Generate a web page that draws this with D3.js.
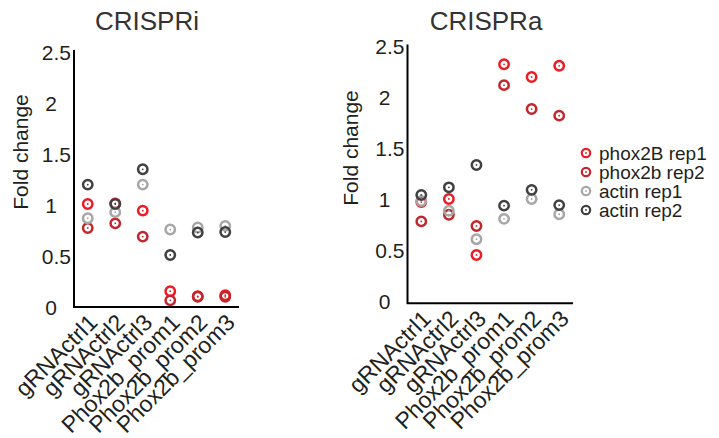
<!DOCTYPE html>
<html>
<head>
<meta charset="utf-8">
<script src="https://cdn.jsdelivr.net/npm/d3@7"></script>
<style>
  body { margin: 0; background: #fff; }
  text { font-family: "Liberation Sans", Arial, sans-serif; fill: #231f20; }
</style>
</head>
<body>
<script>
const WIDTH = 719
const HEIGHT = 438

const categories = ["gRNActrl1", "gRNActrl2", "gRNActrl3", "Phox2b_prom1", "Phox2b_prom2", "Phox2b_prom3"];
const seriesNames = ["phox2B rep1", "phox2b rep2", "actin rep1", "actin rep2"];
const yTicks = [0, 0.5, 1, 1.5, 2, 2.5];

// CRISPRi
const crispriRep1 = [1.01, 1.015, 0.945, 0.155, 0.105, 0.115];
const crispriRep2 = [0.775, 0.82, 0.69, 0.065, 0.10, 0.10];
const crispriActin1 = [0.87, 0.93, 1.20, 0.76, 0.78, 0.795];
const crispriActin2 = [1.20, 1.01, 1.35, 0.51, 0.73, 0.735];

// CRISPRa
const crispraRep1 = [0.97, 1.0, 0.45, 2.325, 2.20, 2.31];
const crispraRep2 = [0.78, 0.845, 0.735, 2.12, 1.885, 1.82];
const crispraActin1 = [0.98, 0.885, 0.605, 0.805, 1.0, 0.85];
const crispraActin2 = [1.04, 1.115, 1.335, 0.935, 1.09, 0.94];

const COLORS = ["#ec1c24", "#c1272d", "#a7a7a7", "#414042"];

const svg = d3.select("body").append("svg")
  .attr("width", WIDTH)
  .attr("height", HEIGHT);

function panel(title, series, cfg) {
  const g = svg.append("g");
  const x = d3.scaleLinear([0.5, 6.5], [cfg.left, cfg.right]);
  const y = d3.scaleLinear([0, 2.5], [cfg.bottom, cfg.top]);

  // title
  g.append("text")
    .attr("x", cfg.titleX)
    .attr("y", 30)
    .attr("text-anchor", "middle")
    .style("font-size", "26px")
    .style("fill", "#333")
    .text(title);

  // y label
  g.append("text")
    .attr("transform", `translate(${cfg.labelX},${cfg.labelY}) rotate(-90)`)
    .attr("text-anchor", "middle")
    .style("font-size", "21px")
    .text("Fold change");

  // y axis
  const yAxis = g.append("g")
    .attr("transform", `translate(${cfg.left},0)`)
    .call(d3.axisLeft(y).tickValues(yTicks).tickSize(0).tickFormat(d3.format("")));
  yAxis.select(".domain").remove();
  yAxis.selectAll("text")
    .attr("x", d => d % 1 ? -3 : -17)
    .attr("dy", "0.35em")
    .style("font-size", "21px")
    .style("font-family", "'Liberation Sans', Arial, sans-serif")
    .attr("fill", "#231f20");

  // axis lines
  g.append("path")
    .attr("d", `M${cfg.left},${cfg.top - 2}V${cfg.bottom + cfg.base}H${x(6.5)}`)
    .attr("fill", "none")
    .attr("stroke", "#000")
    .attr("stroke-width", 2);

  // x labels
  g.append("g").selectAll("text")
    .data(categories)
    .join("text")
    .attr("transform", (d, i) => `translate(${x(i + 1) + 11},${cfg.bottom + cfg.base + 17}) rotate(-45)`)
    .attr("text-anchor", "end")
    .style("font-size", "23px")
    .text(d => d);

  // markers
  series.forEach((vals, s) => {
    const m = g.append("g").selectAll("g")
      .data(vals)
      .join("g")
      .attr("transform", (d, i) => `translate(${x(i + 1)},${y(d)})`);
    m.append("circle")
      .attr("r", 4.7)
      .attr("fill", "none")
      .attr("stroke", COLORS[s])
      .attr("stroke-width", 2.5);
    m.append("circle")
      .attr("r", 0.9)
      .attr("fill", COLORS[s]);
  });
}

panel("CRISPRi", [crispriRep1, crispriRep2, crispriActin1, crispriActin2],
  { left: 74, right: 239, top: 52, bottom: 307, base: 0, titleX: 147, labelX: 28, labelY: 152 });
panel("CRISPRa", [crispraRep1, crispraRep2, crispraActin1, crispraActin2],
  { left: 407.5, right: 573, top: 46.5, bottom: 300.7, base: 2.5, titleX: 486, labelX: 358, labelY: 148 });

// legend
const legend = svg.append("g").attr("transform", "translate(586,153)");
const row = legend.selectAll("g")
  .data(seriesNames)
  .join("g")
  .attr("transform", (d, i) => `translate(0,${i * 19})`);
row.append("circle")
  .attr("r", 4.2)
  .attr("fill", "none")
  .attr("stroke", (d, i) => COLORS[i])
  .attr("stroke-width", 2.2);
row.append("circle")
  .attr("r", 0.9)
  .attr("fill", (d, i) => COLORS[i]);
row.append("text")
  .attr("x", 13)
  .attr("dy", "0.35em")
  .style("font-size", "19px")
  .text(d => d);
</script>
</body>
</html>
